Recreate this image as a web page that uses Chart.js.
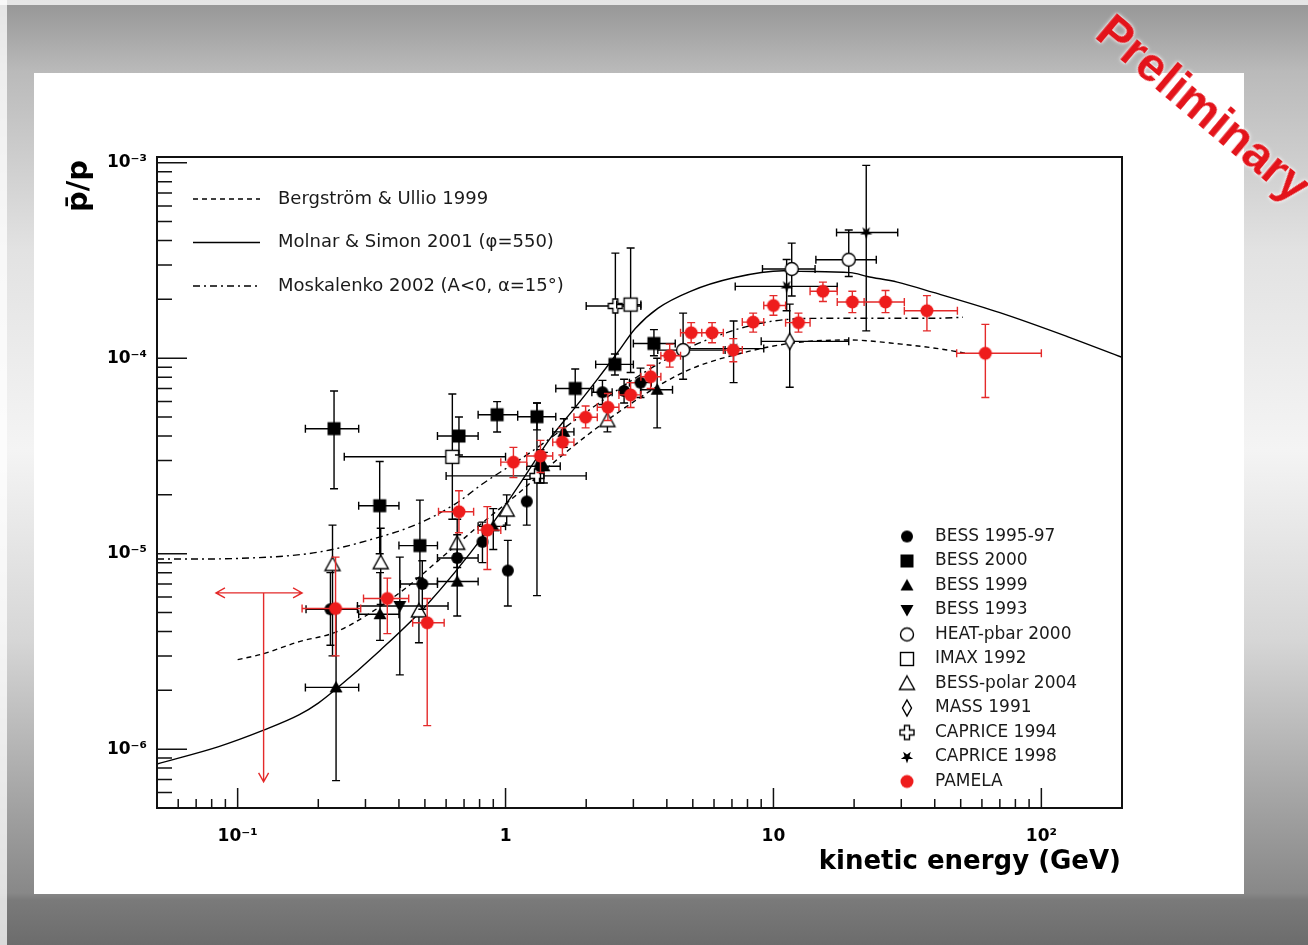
<!DOCTYPE html>
<html>
<head>
<meta charset="utf-8">
<script src="https://cdn.jsdelivr.net/npm/chart.js@4.4.1/dist/chart.umd.min.js"></script>
<style>
  html, body { margin: 0; padding: 0; }
  body {
    width: 1308px; height: 945px; overflow: hidden; position: relative;
    background: linear-gradient(to bottom, #959595 0px, #bababa 72px, #e2e2e2 250px, #f4f4f4 450px,
      #d6d6d6 640px, #9e9e9e 820px, #888 893px, #7a7a7a 900px, #6c6c6c 945px);
  }
  #edgeL { position: absolute; left: 0; top: 0; width: 7px; height: 945px; background: rgba(255,255,255,0.75); }
  #edgeT { position: absolute; left: 0; top: 0; width: 1308px; height: 5px; background: rgba(255,255,255,0.75); }
  #panel { position: absolute; left: 34px; top: 73px; width: 1210px; height: 821px; background: #fff; }
  #prelim {
    position: absolute; left: 1204px; top: 108px;
    transform: translate(-50%, -50%) rotate(40deg);
    font: bold 48px "Liberation Sans", Arial, sans-serif; color: #e3141b; white-space: nowrap;
    text-shadow: 0 0 2px #fff, 0 0 4px #fff;
  }
</style>
</head>
<body>
<div id="edgeL"></div>
<div id="edgeT"></div>
<div id="panel"><canvas id="chart" width="1210" height="821"></canvas></div>
<div id="prelim">Preliminary</div>
<script>
// axis ticks
const xTickVals = [0.1, 1, 10, 100];
const xTickLabels = ['10⁻¹', '1', '10', '10²'];
const yTickVals = [1e-6, 1e-5, 1e-4, 1e-3];
const yTickLabels = ['10⁻⁶', '10⁻⁵', '10⁻⁴', '10⁻³'];

// model curves: kinetic energy (GeV) and pbar/p
const bergE = [0.1, 0.122, 0.17, 0.23, 0.3, 0.42, 0.57, 0.8, 1.1, 1.5, 2.0, 2.8, 3.9, 5.0, 8.0, 12, 19, 30, 45, 52];
const bergR = [2.87e-6, 3.05e-6, 3.55e-6, 3.95e-6, 4.8e-6, 6.6e-6, 9.4e-6, 1.4e-5, 2.0e-5, 2.9e-5, 4.0e-5, 5.6e-5, 7.5e-5, 8.9e-5, 1.08e-4, 1.2e-4, 1.24e-4, 1.18e-4, 1.1e-4, 1.06e-4];
const molnarE = [0.05, 0.085, 0.125, 0.17, 0.2, 0.23, 0.34, 0.51, 0.83, 1.1, 1.47, 1.82, 2.2, 2.62, 3.05, 3.7, 4.9, 7.1, 10.9, 12.6, 19.4, 22.4, 29, 39.5, 70, 125, 200];
const molnarR = [8.4e-7, 1.03e-6, 1.25e-6, 1.5e-6, 1.72e-6, 2.0e-6, 3.2e-6, 5.5e-6, 1.24e-5, 2.15e-5, 3.9e-5, 5.6e-5, 7.8e-5, 1.07e-4, 1.42e-4, 1.8e-4, 2.2e-4, 2.58e-4, 2.8e-4, 2.78e-4, 2.74e-4, 2.62e-4, 2.45e-4, 2.17e-4, 1.71e-4, 1.29e-4, 1.01e-4];
const moskE = [0.05, 0.08, 0.11, 0.16, 0.21, 0.3, 0.47, 0.65, 0.83, 1.2, 2.0, 3.0, 4.5, 7.0, 10, 15, 25, 40, 51];
const moskR = [9.4e-6, 9.4e-6, 9.5e-6, 9.8e-6, 1.03e-5, 1.16e-5, 1.42e-5, 1.8e-5, 2.3e-5, 3.2e-5, 5.3e-5, 7.8e-5, 1.08e-4, 1.38e-4, 1.55e-4, 1.6e-4, 1.6e-4, 1.6e-4, 1.62e-4];

// measurements: [E, pbar/p, E low, E high, ratio low, ratio high]
const bess9597 = [
  [0.222, 5.2e-6, 0.18, 0.28, 3.4e-6, 8.0e-6],
  [0.489, 7.0e-6, 0.405, 0.557, 5.2e-6, 9.2e-6],
  [0.66, 9.5e-6, 0.557, 0.79, 7.2e-6, 1.25e-5],
  [0.82, 1.15e-5, null, null, 9.0e-6, 1.45e-5],
  [1.02, 8.2e-6, null, null, 5.4e-6, 1.17e-5],
  [1.2, 1.85e-5, null, null, 1.4e-5, 2.4e-5],
  [1.35, 2.8e-5, null, null, 2.3e-5, 3.4e-5],
  [2.3, 6.7e-5, 2.1, 2.5, 5.8e-5, 7.7e-5],
  [2.77, 6.8e-5, null, null, 5.9e-5, 7.8e-5],
  [3.19, 7.5e-5, 2.9, 3.5, 6.3e-5, 8.9e-5]
];
const bess2000 = [
  [0.229, 4.36e-5, 0.179, 0.283, 2.15e-5, 6.8e-5],
  [0.339, 1.76e-5, 0.283, 0.40, 1.0e-5, 2.96e-5],
  [0.479, 1.10e-5, 0.40, 0.557, 7.5e-6, 1.88e-5],
  [0.67, 4.0e-5, 0.557, 0.79, 3.2e-5, 5.0e-5],
  [0.93, 5.14e-5, 0.79, 1.11, 4.19e-5, 6.0e-5],
  [1.31, 5.02e-5, 1.11, 1.54, 4.3e-5, 5.9e-5],
  [1.82, 7.0e-5, 1.54, 2.13, 5.6e-5, 8.8e-5],
  [2.56, 9.3e-5, 2.17, 3.0, 8.2e-5, 1.05e-4],
  [3.58, 1.19e-4, 3.0, 4.3, 1.03e-4, 1.4e-4]
];
const bess1999 = [
  [0.233, 2.07e-6, 0.179, 0.283, 6.9e-7, 5.0e-6],
  [0.34, 4.9e-6, 0.283, 0.40, 3.6e-6, 8.0e-6],
  [0.66, 7.2e-6, 0.557, 0.79, 4.8e-6, 1.0e-5],
  [0.9, 1.38e-5, 0.79, 1.0, 1.05e-5, 1.7e-5],
  [1.39, 2.8e-5, 1.2, 1.6, 2.3e-5, 3.3e-5],
  [1.65, 4.2e-5, 1.5, 1.8, 3.5e-5, 4.9e-5],
  [3.68, 6.9e-5, 3.2, 4.2, 4.4e-5, 1.0e-4]
];
const bess1993 = [
  [0.403, 5.4e-6, 0.28, 0.61, 2.4e-6, 9.6e-6]
];
const heat = [
  [4.6, 1.1e-4, 3.7, 6.6, 7.8e-5, 1.7e-4],
  [11.7, 2.86e-4, 9.1, 14.3, 2.08e-4, 3.88e-4],
  [19.1, 3.19e-4, 14.4, 24.2, 2.62e-4, 4.53e-4]
];
const imax = [
  [0.633, 3.13e-5, 0.25, 1.0, 1.5e-5, 6.56e-5],
  [2.93, 1.88e-4, 2.6, 3.2, 8.45e-5, 3.66e-4]
];
const bessPolar = [
  [0.226, 8.8e-6, null, null, 3.0e-6, 1.4e-5],
  [0.342, 9.0e-6, null, null, 5.5e-6, 1.35e-5],
  [0.475, 5.1e-6, null, null, 3.5e-6, 7.5e-6],
  [0.66, 1.13e-5, null, null, 8.5e-6, 1.5e-5],
  [1.01, 1.67e-5, null, null, 1.4e-5, 2.0e-5],
  [2.4, 4.8e-5, null, null, 4.2e-5, 5.5e-5]
];
const mass = [
  [11.5, 1.22e-4, 9.0, 19.1, 7.1e-5, 1.89e-4]
];
const caprice94 = [
  [1.31, 2.5e-5, 0.6, 2.0, 6.1e-6, 5.9e-5],
  [2.57, 1.85e-4, 2.0, 3.2, 9.6e-5, 3.45e-4]
];
const caprice98 = [
  [7.1, 1.12e-4, 4.5, 9.2, 7.5e-5, 1.55e-4],
  [11.2, 2.33e-4, 7.2, 17.3, 1.75e-4, 3.2e-4],
  [22.2, 4.4e-4, 17.2, 29.1, 1.38e-4, 9.7e-4]
];
const pamela = [
  [0.232, 5.24e-6, 0.174, 0.288, 3.0e-6, 9.6e-6],
  [0.362, 5.9e-6, 0.295, 0.435, 3.9e-6, 7.5e-6],
  [0.51, 4.43e-6, 0.45, 0.59, 1.32e-6, 5.9e-6],
  [0.67, 1.64e-5, 0.562, 0.76, 1.28e-5, 2.1e-5],
  [0.855, 1.32e-5, 0.79, 0.96, 8.3e-6, 1.74e-5],
  [1.07, 2.94e-5, 0.96, 1.2, 2.45e-5, 3.5e-5],
  [1.35, 3.16e-5, 1.2, 1.5, 2.6e-5, 3.8e-5],
  [1.63, 3.72e-5, 1.5, 1.8, 3.2e-5, 4.4e-5],
  [1.99, 4.99e-5, 1.8, 2.2, 4.4e-5, 5.7e-5],
  [2.41, 5.61e-5, 2.2, 2.65, 4.8e-5, 6.6e-5],
  [2.93, 6.49e-5, 2.65, 3.2, 5.6e-5, 7.5e-5],
  [3.48, 8.04e-5, 3.2, 3.8, 7.0e-5, 9.2e-5],
  [4.1, 1.03e-4, 3.8, 4.5, 9.0e-5, 1.18e-4],
  [4.93, 1.35e-4, 4.5, 5.4, 1.2e-4, 1.52e-4],
  [5.9, 1.35e-4, 5.4, 6.5, 1.2e-4, 1.52e-4],
  [7.08, 1.1e-4, 6.5, 7.65, 9.6e-5, 1.26e-4],
  [8.4, 1.53e-4, 7.65, 9.2, 1.36e-4, 1.7e-4],
  [10.0, 1.86e-4, 9.2, 11.1, 1.66e-4, 2.09e-4],
  [12.4, 1.52e-4, 11.1, 13.7, 1.36e-4, 1.7e-4],
  [15.3, 2.2e-4, 13.7, 17.3, 1.95e-4, 2.45e-4],
  [19.7, 1.94e-4, 17.3, 21.8, 1.71e-4, 2.2e-4],
  [26.2, 1.94e-4, 21.8, 30.8, 1.71e-4, 2.22e-4],
  [37.4, 1.75e-4, 30.8, 48.6, 1.38e-4, 2.09e-4],
  [61.8, 1.06e-4, 48.3, 100, 6.3e-5, 1.49e-4]
];
// PAMELA upper limit: [E, limit, E low, E high, arrow tip]
const pamelaLimit = [0.125, 6.3e-6, 0.083, 0.174, 6.8e-7];

// ---- marker glyphs (ROOT style) ----
function makeMarker(draw) {
  const c = document.createElement('canvas');
  c.width = 20; c.height = 20;
  const g = c.getContext('2d');
  g.translate(10, 10);
  g.lineWidth = 1.4;
  g.strokeStyle = '#000';
  g.fillStyle = '#000';
  draw(g);
  return c;
}
function poly(g, pts) {
  g.beginPath();
  pts.forEach(([a, b], i) => (i ? g.lineTo(a, b) : g.moveTo(a, b)));
  g.closePath();
}
const markers = {
  dot: makeMarker(g => { g.beginPath(); g.arc(0, 0, 6, 0, 2 * Math.PI); g.fill(); }),
  square: makeMarker(g => g.fillRect(-6.5, -6.5, 13, 13)),
  triUp: makeMarker(g => { poly(g, [[0, -6.5], [6.5, 5], [-6.5, 5]]); g.fill(); }),
  triDown: makeMarker(g => { poly(g, [[0, 6.5], [6.5, -5], [-6.5, -5]]); g.fill(); }),
  openCircle: makeMarker(g => { g.beginPath(); g.arc(0, 0, 6.5, 0, 2 * Math.PI); g.fillStyle = '#fff'; g.fill(); g.stroke(); }),
  openSquare: makeMarker(g => { g.fillStyle = '#fff'; g.fillRect(-6.5, -6.5, 13, 13); g.strokeRect(-6.5, -6.5, 13, 13); }),
  openTri: makeMarker(g => { poly(g, [[0, -7.5], [7.5, 6], [-7.5, 6]]); g.fillStyle = '#fff'; g.fill(); g.stroke(); }),
  diamond: makeMarker(g => { poly(g, [[0, -8], [4.5, 0], [0, 8], [-4.5, 0]]); g.fillStyle = '#fff'; g.fill(); g.stroke(); }),
  openCross: makeMarker(g => {
    const a = 2.5, b = 7;
    poly(g, [[-a, -b], [a, -b], [a, -a], [b, -a], [b, a], [a, a], [a, b], [-a, b], [-a, a], [-b, a], [-b, -a], [-a, -a]]);
    g.fillStyle = '#fff'; g.fill(); g.stroke();
  }),
  star: makeMarker(g => {
    const pts = [];
    for (let i = 0; i < 10; i++) {
      const r = i % 2 ? 2.6 : 6.5, t = Math.PI / 2 + i * Math.PI / 5;
      pts.push([r * Math.cos(t), r * Math.sin(t)]);
    }
    poly(g, pts); g.fill();
  }),
  red: makeMarker(g => { g.beginPath(); g.arc(0, 0, 6.5, 0, 2 * Math.PI); g.fillStyle = '#ee1c1c'; g.fill(); })
};

const curveSets = [
  { label: 'Bergström & Ullio 1999', e: bergE, r: bergR, dash: [5, 4] },
  { label: 'Molnar & Simon 2001 (φ=550)', e: molnarE, r: molnarR, dash: [] },
  { label: 'Moskalenko 2002 (A<0, α=15°)', e: moskE, r: moskR, dash: [7, 4, 2, 4] }
];

const pointSets = [
  { label: 'BESS 1995-97', rows: bess9597, marker: 'dot' },
  { label: 'BESS 2000', rows: bess2000, marker: 'square' },
  { label: 'BESS 1999', rows: bess1999, marker: 'triUp' },
  { label: 'BESS 1993', rows: bess1993, marker: 'triDown' },
  { label: 'HEAT-pbar 2000', rows: heat, marker: 'openCircle' },
  { label: 'IMAX 1992', rows: imax, marker: 'openSquare' },
  { label: 'BESS-polar 2004', rows: bessPolar, marker: 'openTri' },
  { label: 'MASS 1991', rows: mass, marker: 'diamond' },
  { label: 'CAPRICE 1994', rows: caprice94, marker: 'openCross' },
  { label: 'CAPRICE 1998', rows: caprice98, marker: 'star' },
  { label: 'PAMELA', rows: pamela, marker: 'red', errColor: '#e42a2a', limit: pamelaLimit }
];

function logTicks(min, max, majors) {
  const out = [];
  for (let e = Math.floor(Math.log10(min)); e <= Math.ceil(Math.log10(max)); e++) {
    for (let m = 1; m < 10; m++) {
      const v = m * Math.pow(10, e);
      if (v < min * 0.999 || v > max * 1.001) continue;
      const major = majors.find(t => Math.abs(t / v - 1) < 1e-9);
      out.push({ value: major !== undefined ? major : v, major: major !== undefined });
    }
  }
  return out;
}

// error bars drawn just before each dataset's markers
const errorBars = {
  id: 'errorBars',
  beforeDatasetDraw(chart, args) {
    const ds = chart.data.datasets[args.index];
    if (!ds.errors) return;
    const { ctx, chartArea: a, scales: { x, y } } = chart;
    const cap = 4;
    ctx.save();
    ctx.beginPath();
    ctx.rect(a.left, a.top, a.width, a.height);
    ctx.clip();
    ctx.strokeStyle = ds.errColor;
    ctx.lineWidth = 1.4;
    ctx.beginPath();
    ds.errors.forEach(r => {
      const px = x.getPixelForValue(r[0]), py = y.getPixelForValue(r[1]);
      if (r[2] !== null) {
        const x1 = x.getPixelForValue(r[2]), x2 = x.getPixelForValue(r[3]);
        ctx.moveTo(x1, py); ctx.lineTo(x2, py);
        ctx.moveTo(x1, py - cap); ctx.lineTo(x1, py + cap);
        ctx.moveTo(x2, py - cap); ctx.lineTo(x2, py + cap);
      }
      if (r[4] !== null) {
        const y1 = y.getPixelForValue(r[4]), y2 = y.getPixelForValue(r[5]);
        ctx.moveTo(px, y1); ctx.lineTo(px, y2);
        ctx.moveTo(px - cap, y1); ctx.lineTo(px + cap, y1);
        ctx.moveTo(px - cap, y2); ctx.lineTo(px + cap, y2);
      }
    });
    if (ds.limit) {
      const L = ds.limit;
      const px = x.getPixelForValue(L[0]), py = y.getPixelForValue(L[1]);
      const x1 = x.getPixelForValue(L[2]), x2 = x.getPixelForValue(L[3]);
      const tip = y.getPixelForValue(L[4]);
      const h = 9, w = 5;
      ctx.moveTo(x1, py); ctx.lineTo(x2, py);
      ctx.moveTo(x1 + h, py - w); ctx.lineTo(x1, py); ctx.lineTo(x1 + h, py + w);
      ctx.moveTo(x2 - h, py - w); ctx.lineTo(x2, py); ctx.lineTo(x2 - h, py + w);
      ctx.moveTo(px, py); ctx.lineTo(px, tip);
      ctx.moveTo(px - w, tip - h); ctx.lineTo(px, tip); ctx.lineTo(px + w, tip - h);
    }
    ctx.stroke();
    ctx.restore();
  }
};

// ROOT-like frame with inner tick marks
const frame = {
  id: 'frame',
  afterDatasetsDraw(chart) {
    const { ctx, chartArea: a, scales: { x, y } } = chart;
    ctx.save();
    ctx.strokeStyle = '#111';
    ctx.lineWidth = 1.5;
    ctx.beginPath();
    x.ticks.forEach(t => {
      const px = x.getPixelForValue(t.value);
      const len = xTickVals.includes(t.value) ? 20 : 9;
      ctx.moveTo(px, a.bottom); ctx.lineTo(px, a.bottom - len);
    });
    y.ticks.forEach(t => {
      const py = y.getPixelForValue(t.value);
      const len = yTickVals.includes(t.value) ? 30 : 15;
      ctx.moveTo(a.left, py); ctx.lineTo(a.left + len, py);
    });
    ctx.stroke();
    ctx.lineWidth = 2;
    ctx.strokeRect(a.left, a.top, a.width, a.height);
    ctx.restore();
  }
};

// legends and axis titles
const annotations = {
  id: 'annotations',
  afterDraw(chart) {
    const ctx = chart.ctx;
    ctx.save();
    ctx.fillStyle = '#1a1a1a';
    ctx.font = '18px "DejaVu Sans"';
    ctx.textBaseline = 'middle';
    curveSets.forEach((c, i) => {
      const yy = 126 + i * 43.5;
      ctx.strokeStyle = '#000';
      ctx.lineWidth = 1.5;
      ctx.setLineDash(c.dash);
      ctx.beginPath(); ctx.moveTo(159, yy); ctx.lineTo(226, yy); ctx.stroke();
      ctx.fillText(c.label, 244, yy);
    });
    ctx.setLineDash([]);
    ctx.font = '17px "DejaVu Sans"';
    pointSets.forEach((s, i) => {
      const yy = 463.5 + i * 24.5;
      ctx.drawImage(markers[s.marker], 863, yy - 10);
      ctx.fillText(s.label, 901, yy);
    });

    ctx.fillStyle = '#000';
    ctx.font = 'bold 26px "DejaVu Sans"';
    ctx.textAlign = 'right';
    ctx.fillText('kinetic energy (GeV)', 1087, 789);

    ctx.translate(53, 87);
    ctx.rotate(-Math.PI / 2);
    ctx.font = 'bold 29px "DejaVu Sans"';
    ctx.textBaseline = 'alphabetic';
    ctx.textAlign = 'right';
    ctx.fillText('p\u0304/p', 0, 0);
    ctx.restore();
  }
};

const datasets = [];
pointSets.forEach(s => {
  datasets.push({
    label: s.label,
    data: s.rows.map(r => ({ x: r[0], y: r[1] })),
    errors: s.rows,
    errColor: s.errColor || '#000',
    limit: s.limit,
    showLine: false,
    pointStyle: markers[s.marker],
    pointRadius: 7,
    order: s.label === 'PAMELA' ? 0 : 1
  });
});
curveSets.forEach(c => {
  datasets.push({
    label: c.label,
    data: c.e.map((e, i) => ({ x: e, y: c.r[i] })),
    showLine: true,
    fill: false,
    pointRadius: 0,
    borderColor: '#000',
    borderWidth: 1.4,
    borderDash: c.dash,
    cubicInterpolationMode: 'monotone',
    order: 2
  });
});

const tickFont = { family: 'DejaVu Sans', size: 17, weight: 'bold' };

new Chart(document.getElementById('chart'), {
  type: 'scatter',
  data: { datasets },
  options: {
    responsive: false,
    animation: false,
    layout: { padding: { left: 0, top: 84, right: 122, bottom: 0 } },
    plugins: { legend: { display: false }, tooltip: { enabled: false } },
    scales: {
      x: {
        type: 'logarithmic',
        min: 0.05,
        max: 200,
        afterFit: s => { s.height = 86; },
        afterBuildTicks: s => { s.ticks = logTicks(0.05, 200, xTickVals); },
        grid: { display: false, drawTicks: false },
        border: { display: false },
        ticks: {
          autoSkip: false,
          maxRotation: 0,
          padding: 18,
          color: '#000',
          font: tickFont,
          callback: v => { const i = xTickVals.indexOf(v); return i < 0 ? '' : xTickLabels[i]; }
        }
      },
      y: {
        type: 'logarithmic',
        min: 5e-7,
        max: 1.07e-3,
        afterFit: s => { s.width = 123; },
        afterBuildTicks: s => { s.ticks = logTicks(5e-7, 1.07e-3, yTickVals); },
        grid: { display: false, drawTicks: false },
        border: { display: false },
        ticks: {
          autoSkip: false,
          padding: 10,
          color: '#000',
          font: tickFont,
          callback: v => { const i = yTickVals.indexOf(v); return i < 0 ? '' : yTickLabels[i]; }
        }
      }
    }
  },
  plugins: [errorBars, frame, annotations]
});
</script>
</body>
</html>
